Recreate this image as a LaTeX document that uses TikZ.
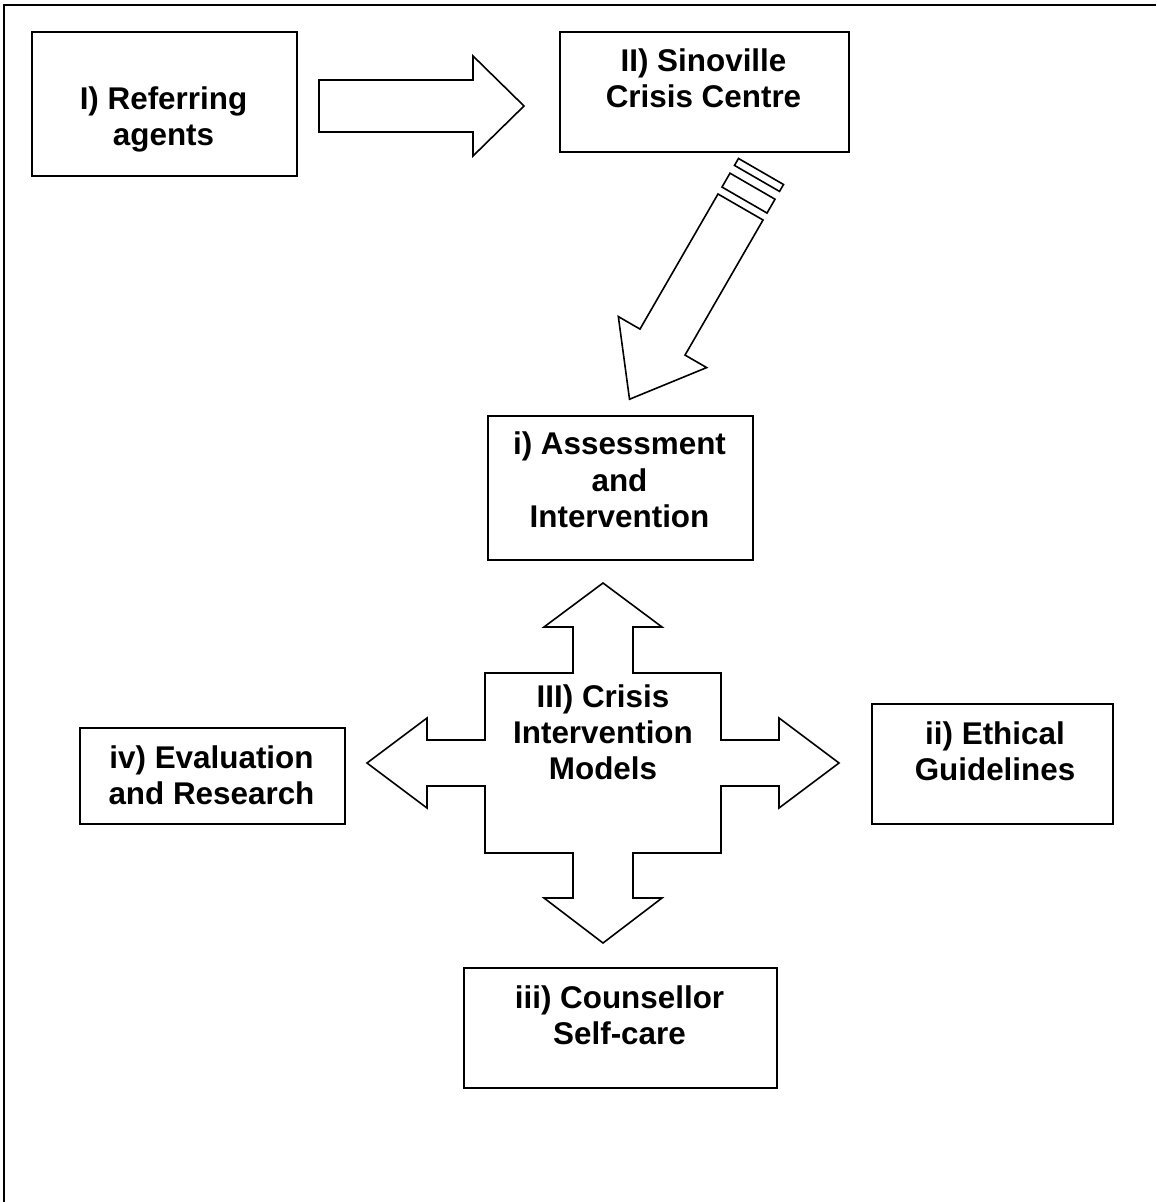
\documentclass[tikz,border=0pt]{standalone}
\usepackage{fontspec}
\setmainfont{Liberation Sans}
\newcommand{\mltext}[1]{\begin{tabular}[t]{@{}c@{}}#1\end{tabular}}
\begin{document}
\begin{tikzpicture}[x=0.5pt,y=-0.5pt,
  box/.style={draw, line width=1pt, inner sep=0pt, anchor=north west},
  lbl/.style={inner sep=0pt, anchor=base, font=\fontsize{15.7}{18}\selectfont\bfseries},
  blockarrow/.style={draw, line width=0.8pt, line join=miter, fill=white}]
\useasboundingbox (0,0) rectangle (1156,1202);
% outer frame (top and left only)
\draw[line width=1pt] (4,1202) -- (4,5.5) -- (1156,5.5);

% boxes
\node[box, minimum width=132.5pt, minimum height=72pt] (b1) at (31,31) {};
\node[lbl] (t1) at (163.5,110) {\mltext{I) Referring\\agents}};

\node[box, minimum width=144.5pt, minimum height=60pt] (b2) at (559,31) {};
\node[lbl] (t2) at (703.5,72) {\mltext{II) Sinoville\\Crisis Centre}};

\node[box, minimum width=132.5pt, minimum height=72pt] (bi) at (487,415) {};
\node[lbl] (ti) at (619.5,455) {\mltext{i) Assessment\\and\\Intervention}};

\node[box, minimum width=120.5pt, minimum height=60pt] (bii) at (871,703) {};
\node[lbl] (tii) at (995,744) {\mltext{ii) Ethical\\Guidelines}};

\node[box, minimum width=156.5pt, minimum height=60pt] (biii) at (463,967) {};
\node[lbl] (tiii) at (619.5,1008) {\mltext{iii) Counsellor\\Self-care}};

\node[box, minimum width=132.5pt, minimum height=48pt] (biv) at (79,727) {};
\node[lbl] (tiv) at (211.5,768) {\mltext{iv) Evaluation\\and Research}};

% arrow I -> II
\draw[blockarrow] (319,80) -- (473,80) -- (473,56) -- (524,106) -- (473,156)
  -- (473,132) -- (319,132) -- cycle;

% striped diagonal arrow II -> i
\begin{scope}[shift={(740.5,207)}, x={(-0.25pt,-0.433pt)}, y={(0.433pt,-0.25pt)}]
  \draw[blockarrow] (0,-26) -- (156,-26) -- (156,-51) -- (222,0) -- (156,51)
    -- (156,26) -- (0,26) -- cycle;
  \draw[blockarrow] (-24,-26) -- (-8,-26) -- (-8,26) -- (-24,26) -- cycle;
  \draw[blockarrow] (-41,-26) -- (-33,-26) -- (-33,26) -- (-41,26) -- cycle;
\end{scope}

% four-way arrow
\draw[blockarrow] (603,583) -- (662,627) -- (633,627) -- (633,673) -- (721,673)
  -- (721,740) -- (779,740) -- (779,718) -- (839,763) -- (779,808) -- (779,786)
  -- (721,786) -- (721,853) -- (633,853) -- (633,898) -- (662,898) -- (603,943)
  -- (544,898) -- (573,898) -- (573,853) -- (485,853) -- (485,786) -- (427,786)
  -- (427,808) -- (367,763) -- (427,718) -- (427,740) -- (485,740) -- (485,673)
  -- (573,673) -- (573,627) -- (544,627) -- cycle;
\node[lbl] (tIII) at (603,707) {\mltext{III) Crisis\\Intervention\\Models}};
\end{tikzpicture}
\end{document}
